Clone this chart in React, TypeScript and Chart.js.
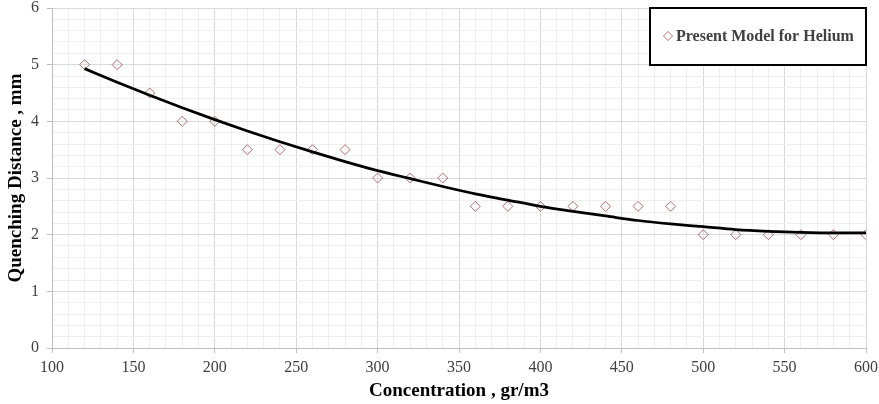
import React, { useEffect, useRef } from "react";
import { Chart, registerables } from "chart.js";

Chart.register(...registerables);

const concentrations = [120, 140, 160, 180, 200, 220, 240, 260, 280, 300, 320, 340, 360, 380, 400, 420, 440, 460, 480, 500, 520, 540, 560, 580, 600];
const quenchingDistance = [5, 5, 4.5, 4, 4, 3.5, 3.5, 3.5, 3.5, 3, 3, 3, 2.5, 2.5, 2.5, 2.5, 2.5, 2.5, 2.5, 2, 2, 2, 2, 2, 2];
const trendX = [120, 140, 160, 180, 200, 220, 240, 260, 280, 300, 320, 340, 360, 380, 400, 420, 440, 460, 480, 500, 520, 540, 560, 580, 600];
const trendY = [4.93, 4.69, 4.46, 4.24, 4.03, 3.83, 3.64, 3.46, 3.29, 3.13, 2.99, 2.85, 2.72, 2.61, 2.5, 2.41, 2.33, 2.25, 2.19, 2.14, 2.09, 2.06, 2.04, 2.03, 2.03];
const seriesLabel = "Present Model for Helium";
const xTitle = "Concentration , gr/m3";
const yTitle = "Quenching Distance , mm";

const SERIF = "'Liberation Serif', 'Times New Roman', Times, serif";
const MARKER = "#b36c6e";

const isMult = (v: number, m: number) => Math.abs(v / m - Math.round(v / m)) < 1e-6;

const legendPlugin = {
  id: "insideLegend",
  afterDatasetsDraw(chart: any) {
    const { ctx, chartArea } = chart;
    const w = 216;
    const h = 57;
    const x0 = chartArea.right - w;
    const y0 = chartArea.top;
    ctx.save();
    ctx.fillStyle = "#ffffff";
    ctx.fillRect(x0, y0, w, h);
    ctx.strokeStyle = "#000000";
    ctx.lineWidth = 2;
    ctx.strokeRect(x0, y0, w, h);
    const cy = y0 + 28;
    const cx = x0 + 18;
    const r = 4.5;
    ctx.beginPath();
    ctx.moveTo(cx, cy - r);
    ctx.lineTo(cx + r, cy);
    ctx.lineTo(cx, cy + r);
    ctx.lineTo(cx - r, cy);
    ctx.closePath();
    ctx.strokeStyle = MARKER;
    ctx.lineWidth = 1;
    ctx.stroke();
    ctx.fillStyle = "#404040";
    ctx.font = `bold 16px ${SERIF}`;
    ctx.textBaseline = "middle";
    ctx.textAlign = "left";
    ctx.fillText(seriesLabel, cx + 8, cy + 1);
    ctx.restore();
  },
};

export default function App() {
  const ref = useRef<HTMLCanvasElement | null>(null);
  useEffect(() => {
    if (!ref.current) return;
    const chart = new Chart(ref.current, {
      type: "scatter",
      data: {
        datasets: [
          {
            type: "scatter",
            label: seriesLabel,
            data: concentrations.map((x, i) => ({ x, y: quenchingDistance[i] })),
            pointStyle: "rectRot",
            pointRadius: 5,
            pointBorderWidth: 1,
            borderColor: MARKER,
            backgroundColor: "rgba(255,255,255,0)",
            order: 1,
          },
          {
            type: "line",
            label: "Trend",
            data: trendX.map((x, i) => ({ x, y: trendY[i] })),
            borderColor: "#000000",
            borderWidth: 2.75,
            pointRadius: 0,
            fill: false,
            cubicInterpolationMode: "monotone",
            order: 0,
          } as any,
        ],
      },
      options: {
        animation: false,
        responsive: false,
        maintainAspectRatio: false,
        layout: { padding: { top: 8, right: 13, left: 0, bottom: 0 } },
        plugins: { legend: { display: false }, tooltip: { enabled: false } },
        scales: {
          x: {
            type: "linear",
            min: 100,
            max: 600,
            afterFit: (s: any) => {
              s.height = 56;
              s.paddingLeft = 0;
              s.paddingRight = 0;
            },
            ticks: {
              stepSize: 10,
              autoSkip: false,
              maxRotation: 0,
              padding: 5,
              color: "#404040",
              font: { family: SERIF, size: 16 },
              callback: (v: any) => (isMult(Number(v), 50) ? String(v) : ""),
            },
            grid: {
              color: (c: any) => (isMult(c.tick.value, 50) ? "#d9d9d9" : "#efefef"),
              tickColor: (c: any) => (isMult(c.tick.value, 50) ? "#bfbfbf" : "rgba(0,0,0,0)"),
              tickLength: 5,
              lineWidth: 1,
            },
            border: { color: "#bfbfbf", width: 1 },
            title: {
              display: true,
              text: xTitle,
              color: "#000000",
              font: { family: SERIF, size: 19, weight: "bold" },
              padding: { top: 0, bottom: 2 },
            },
          },
          y: {
            type: "linear",
            min: 0,
            max: 6,
            afterFit: (s: any) => {
              s.width = 52;
              s.paddingTop = 0;
              s.paddingBottom = 0;
            },
            ticks: {
              stepSize: 0.2,
              autoSkip: false,
              padding: 8,
              color: "#404040",
              font: { family: SERIF, size: 16 },
              callback: (v: any) => (isMult(Number(v), 1) ? String(Math.round(Number(v))) : ""),
            },
            grid: {
              color: (c: any) => (isMult(c.tick.value, 1) ? "#d9d9d9" : "#efefef"),
              tickColor: (c: any) => (isMult(c.tick.value, 1) ? "#bfbfbf" : "rgba(0,0,0,0)"),
              tickLength: 5,
              lineWidth: 1,
            },
            border: { color: "#bfbfbf", width: 1 },
            title: {
              display: true,
              text: yTitle,
              color: "#000000",
              font: { family: SERIF, size: 19, weight: "bold" },
              padding: { top: 5, bottom: 0 },
            },
          },
        },
      },
      plugins: [legendPlugin],
    });
    return () => chart.destroy();
  }, []);
  return (
    <div style={{ position: "fixed", left: 0, top: 0, width: 879, height: 404, background: "#ffffff" }}>
      <canvas ref={ref} width={879} height={404} style={{ display: "block", width: 879, height: 404 }} />
    </div>
  );
}
